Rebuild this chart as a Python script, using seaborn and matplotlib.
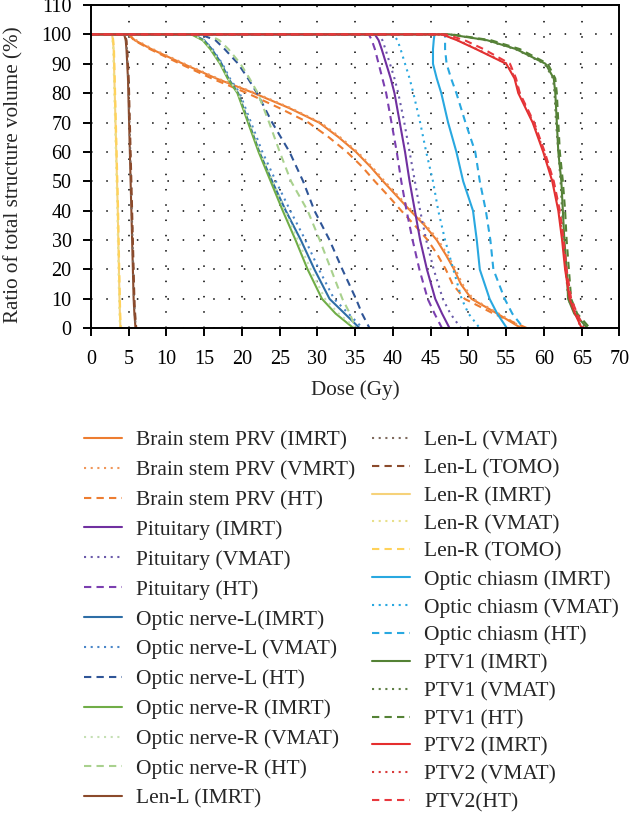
import matplotlib
matplotlib.use("Agg")
import matplotlib.pyplot as plt
import numpy as np
import pandas as pd
import seaborn as sns

# volume levels (%) shared by the DVH curves; dose lists below give the dose
# (Gy) at which each curve reaches that level
VOL = [100, 100, 98, 95, 90, 85, 80, 70, 60, 50, 40, 30, 20, 10, 5, 0]
# finer levels for the slow brain stem curves
VOL_BS = [100, 100, 98, 95, 90, 85, 80, 75, 70, 65, 60, 55, 50, 45, 40, 35, 30, 25, 20, 15, 10, 5, 0]

brainstem_imrt = [0, 5.0, 5.8, 8.0, 12.2, 16.6, 21.6, 26.2, 30.2, 32.8, 35.1, 37.0, 38.7, 40.5, 42.3, 44.2, 45.8, 47.0, 48.1, 49.0, 50.4, 53.8, 57.0]
brainstem_vmat = [0, 5.1, 6.0, 8.2, 12.4, 16.8, 21.8, 26.4, 30.4, 33.0, 35.3, 37.2, 38.9, 40.7, 42.5, 44.4, 46.0, 47.2, 48.3, 49.2, 50.6, 54.0, 57.3]
brainstem_ht = [0, 5.0, 5.7, 7.8, 11.8, 16.0, 20.7, 24.9, 28.8, 31.5, 33.9, 35.9, 37.6, 39.4, 41.1, 42.9, 44.6, 45.9, 47.0, 47.9, 49.5, 53.3, 57.8]

pit_imrt = [0, 37.6, 38.1, 38.5, 39.1, 39.7, 40.2, 40.9, 41.6, 42.2, 42.9, 43.6, 44.5, 45.6, 46.5, 47.5]
pit_vmat = [0, 38.1, 38.6, 39.0, 39.6, 40.2, 40.7, 41.5, 42.2, 42.9, 43.6, 44.4, 45.4, 46.6, 47.6, 49.0]
pit_ht = [0, 36.8, 37.2, 37.6, 38.1, 38.6, 39.1, 39.8, 40.5, 41.1, 41.8, 42.6, 43.5, 44.6, 45.5, 46.5]

onl_imrt = [0, 13.5, 15.0, 16.0, 17.3, 18.2, 19.5, 20.9, 22.3, 24.0, 25.8, 27.8, 29.6, 31.6, 33.6, 35.6]
onl_vmat = [0, 13.5, 15.0, 16.1, 17.4, 18.4, 19.7, 21.2, 22.7, 24.5, 26.4, 28.4, 30.2, 32.2, 34.1, 36.0]
onl_ht = [0, 14.5, 16.5, 17.7, 19.5, 20.8, 22.0, 24.0, 26.3, 28.1, 29.6, 31.6, 33.3, 35.1, 35.9, 36.9]

onr_imrt = [0, 13.3, 14.8, 15.8, 17.1, 18.1, 19.4, 20.8, 22.2, 23.8, 25.4, 27.1, 28.7, 30.6, 32.4, 34.8]
onr_vmat = [0, 13.4, 14.9, 15.9, 17.2, 18.2, 19.5, 21.0, 22.4, 24.1, 25.7, 27.4, 29.1, 31.0, 32.8, 35.1]
onr_ht = [0, 15.5, 17.0, 18.2, 19.8, 21.0, 22.1, 23.6, 25.0, 26.5, 28.7, 30.3, 31.8, 33.3, 34.3, 35.0]

lenl_imrt = [0, 4.4, 4.6, 4.7, 4.8, 4.9, 4.95, 5.05, 5.15, 5.25, 5.35, 5.45, 5.55, 5.65, 5.75, 5.9]
lenl_vmat = [0, 4.45, 4.65, 4.75, 4.85, 4.95, 5.0, 5.1, 5.2, 5.3, 5.4, 5.5, 5.6, 5.7, 5.8, 5.95]
lenl_tomo = [0, 4.5, 4.7, 4.8, 4.9, 5.0, 5.05, 5.15, 5.25, 5.35, 5.45, 5.55, 5.65, 5.75, 5.85, 6.0]

lenr_imrt = [0, 2.8, 2.9, 3.0, 3.05, 3.1, 3.15, 3.25, 3.35, 3.45, 3.55, 3.62, 3.7, 3.78, 3.83, 3.9]
lenr_vmat = [0, 2.75, 2.85, 2.95, 3.0, 3.05, 3.1, 3.2, 3.3, 3.4, 3.5, 3.57, 3.65, 3.73, 3.78, 3.85]
lenr_tomo = [0, 2.85, 2.95, 3.05, 3.1, 3.15, 3.2, 3.3, 3.4, 3.5, 3.6, 3.67, 3.75, 3.83, 3.88, 3.95]

chiasm_imrt = [0, 45.5, 45.4, 45.3, 45.3, 45.8, 46.4, 47.3, 48.4, 49.3, 50.6, 51.1, 51.5, 52.8, 53.8, 55.1]
chiasm_vmat = [0, 40.0, 40.6, 41.0, 41.6, 42.2, 42.7, 43.6, 44.4, 45.3, 46.0, 46.9, 48.0, 49.1, 50.0, 51.5]
chiasm_ht = [0, 46.9, 46.9, 46.9, 47.1, 47.7, 48.4, 49.6, 50.9, 51.5, 52.3, 52.9, 53.3, 54.8, 55.8, 57.3]

ptv1_imrt = [0, 47.5, 52.5, 56.3, 60.2, 61.3, 61.5, 61.7, 61.9, 62.3, 62.5, 62.7, 63.0, 63.2, 64.0, 65.8]
ptv1_vmat = [0, 47.5, 52.3, 56.2, 60.1, 61.2, 61.4, 61.6, 61.9, 62.2, 62.4, 62.6, 62.9, 63.2, 64.1, 65.6]
ptv1_ht = [0, 47.8, 53.0, 56.8, 60.5, 61.5, 61.7, 61.9, 62.1, 62.5, 62.8, 63.0, 63.3, 63.6, 64.4, 66.1]

ptv2_imrt = [0, 46.5, 48.5, 51.0, 55.0, 56.1, 56.6, 58.5, 59.9, 61.1, 61.9, 62.4, 62.8, 63.4, 64.1, 65.0]
ptv2_vmat = [0, 46.5, 48.6, 51.1, 55.1, 56.2, 56.7, 58.6, 60.0, 61.2, 62.0, 62.5, 62.9, 63.5, 64.2, 64.9]
ptv2_ht = [0, 47.0, 49.5, 52.0, 55.5, 56.3, 56.8, 58.7, 60.1, 61.3, 62.1, 62.6, 63.0, 63.6, 64.4, 65.3]

LABELS = [
    "Brain stem PRV (IMRT)", "Brain stem PRV (VMRT)", "Brain stem PRV (HT)",
    "Pituitary (IMRT)", "Pituitary (VMAT)", "Pituitary (HT)",
    "Optic nerve-L(IMRT)", "Optic nerve-L (VMAT)", "Optic nerve-L (HT)",
    "Optic nerve-R (IMRT)", "Optic nerve-R (VMAT)", "Optic nerve-R (HT)",
    "Len-L (IMRT)", "Len-L (VMAT)", "Len-L (TOMO)",
    "Len-R (IMRT)", "Len-R (VMAT)", "Len-R (TOMO)",
    "Optic chiasm (IMRT)", "Optic chiasm (VMAT)", "Optic chiasm (HT)",
    "PTV1 (IMRT)", "PTV1 (VMAT)", "PTV1 (HT)",
    "PTV2 (IMRT)", "PTV2 (VMAT)", "PTV2(HT)",
]
DOSES = [
    brainstem_imrt, brainstem_vmat, brainstem_ht,
    pit_imrt, pit_vmat, pit_ht,
    onl_imrt, onl_vmat, onl_ht,
    onr_imrt, onr_vmat, onr_ht,
    lenl_imrt, lenl_vmat, lenl_tomo,
    lenr_imrt, lenr_vmat, lenr_tomo,
    chiasm_imrt, chiasm_vmat, chiasm_ht,
    ptv1_imrt, ptv1_vmat, ptv1_ht,
    ptv2_imrt, ptv2_vmat, ptv2_ht,
]

COLORS = [
    "#ED7D31", "#F0975A", "#ED7D31",
    "#7030A0", "#6B5BAA", "#7B3FB0",
    "#2E6EA6", "#4A86C8", "#2F5597",
    "#70AD47", "#C5E0B4", "#A9D18E",
    "#8B4A2B", "#7F6A5E", "#8B4A2B",
    "#F6D27A", "#E8E08A", "#FFD25A",
    "#29A8E0", "#29A8E0", "#29A8E0",
    "#548235", "#5F7F45", "#548235",
    "#E52E2E", "#D93A3A", "#E8383E",
]
SOLID = "-"
DOT = (0, (1, 2.2))
DASH = (0, (3.5, 2.5))
STYLES = [SOLID, DOT, DASH] * 9

sns.set_style("white")
plt.rcParams["font.family"] = ["Liberation Serif", "DejaVu Serif"]

fig = plt.figure(figsize=(6.3, 8.34), dpi=100)
ax = fig.add_axes([0.1444, 0.6064, 0.8389, 0.3876])

handles = []
for label, dose, color, ls in zip(LABELS, DOSES, COLORS, STYLES):
    vol = VOL_BS if len(dose) == len(VOL_BS) else VOL
    df = pd.DataFrame({"dose": dose, "vol": vol})
    sns.lineplot(data=df, x="dose", y="vol", sort=False, estimator=None,
                 color=color, linestyle=ls, linewidth=1.5, ax=ax)
    handles.append(ax.lines[-1])

ax.set_xlim(0, 70)
ax.set_ylim(0, 110)
ax.set_xticks(np.arange(0, 71, 5))
ax.set_yticks(np.arange(0, 111, 10))
ax.grid(True, color="black", linestyle=(0, (1, 9)), linewidth=1.1)
for sp in ax.spines.values():
    sp.set_visible(True)
    sp.set_color("black")
    sp.set_linewidth(1.4)
ax.tick_params(direction="out", length=6, width=1.4, labelsize=14.5,
               colors="black", bottom=True, left=True)
ax.tick_params(axis="x", pad=10)
ax.tick_params(axis="y", pad=8)
ax.set_xlabel("Dose (Gy)", fontsize=15.2)
ax.set_ylabel("Ratio of total structure volume (%)", fontsize=15.2)
ax.xaxis.set_label_coords(0.5, -0.160)
ax.yaxis.set_label_coords(-0.128, 0.474)
if ax.get_legend() is not None:
    ax.get_legend().remove()

leg_kw = dict(loc="upper left", frameon=False, fontsize=15.5, handlelength=1.77,
              handletextpad=0.65, borderpad=0, borderaxespad=0)
leg1 = fig.legend(handles[:13], LABELS[:13], bbox_to_anchor=(0.133, 0.484),
                  labelspacing=0.455, **leg_kw)
leg2 = fig.legend(handles[13:], LABELS[13:], bbox_to_anchor=(0.5905, 0.484),
                  labelspacing=0.362, **leg_kw)

fig.savefig("out.png", dpi=100)
